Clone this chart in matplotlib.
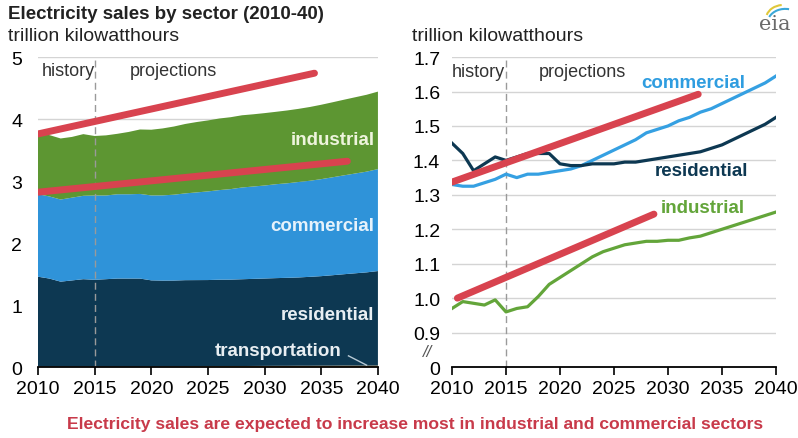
import matplotlib.pyplot as plt
from matplotlib.patches import Arc

plt.rcParams['font.family'] = ['Liberation Sans', 'DejaVu Sans']

years = list(range(2010, 2041))

residential = [1.45, 1.42, 1.37, 1.39, 1.41, 1.40, 1.41, 1.42, 1.42, 1.42,
               1.39, 1.385, 1.385, 1.39, 1.39, 1.39, 1.395, 1.395, 1.40, 1.405,
               1.41, 1.415, 1.42, 1.425, 1.435, 1.445, 1.46, 1.475, 1.49, 1.505,
               1.525]
commercial = [1.33, 1.325, 1.325, 1.335, 1.345, 1.36, 1.35, 1.36, 1.36, 1.365,
              1.37, 1.375, 1.385, 1.40, 1.415, 1.43, 1.445, 1.46, 1.48, 1.49,
              1.50, 1.515, 1.525, 1.54, 1.55, 1.565, 1.58, 1.595, 1.61, 1.625,
              1.645]
industrial = [0.97, 0.99, 0.985, 0.98, 0.995, 0.96, 0.97, 0.975, 1.005, 1.04,
              1.06, 1.08, 1.10, 1.12, 1.135, 1.145, 1.155, 1.16, 1.165, 1.165,
              1.168, 1.168, 1.175, 1.18, 1.19, 1.20, 1.21, 1.22, 1.23, 1.24,
              1.25]
transportation = [0.007] * 10 + [0.008, 0.009, 0.010, 0.011, 0.012, 0.013,
                                 0.014, 0.015, 0.016, 0.017, 0.018, 0.019,
                                 0.019, 0.020, 0.020, 0.021, 0.021, 0.022,
                                 0.022, 0.022, 0.023]

# red trend arrows (start year, start value, end year, end value)
left_trends = [(2010, 3.76, 2034.4, 4.74), (2010, 2.82, 2037.3, 3.32)]
right_trends = [(2010, 1.337, 2032.8, 1.592), (2010.5, 1.0, 2028.7, 1.244)]

left_ticks = [0, 1, 2, 3, 4, 5]
right_ticks = [0.8, 0.9, 1.0, 1.1, 1.2, 1.3, 1.4, 1.5, 1.6, 1.7]
right_labels = ['0', '0.9', '1.0', '1.1', '1.2', '1.3', '1.4', '1.5', '1.6', '1.7']
xticks = [2010, 2015, 2020, 2025, 2030, 2035, 2040]

c_res = '#0d3852'
c_com = '#2f93d9'
c_ind = '#5d9632'
c_trn = '#e59a2e'
c_red = '#d8434f'
c_grid = '#d4d4d4'

fig = plt.figure(figsize=(7.98, 4.39), dpi=100)
ax1 = fig.add_axes([0.0476, 0.1617, 0.426, 0.706])
ax2 = fig.add_axes([0.5664, 0.1617, 0.4060, 0.706])


def style_axis(ax):
    for side in ['left', 'right', 'top']:
        ax.spines[side].set_visible(False)
    ax.spines['bottom'].set_linewidth(1.3)
    ax.spines['bottom'].set_zorder(6)
    ax.tick_params(axis='x', direction='out', length=6, width=1.2,
                   labelsize=14, pad=3)
    ax.tick_params(axis='y', length=0, labelsize=14)
    ax.set_xlim(2010, 2040)
    ax.set_xticks(xticks)


# left: stacked areas
style_axis(ax1)
ax1.set_ylim(0, 5)
ax1.set_yticks(left_ticks)
ax1.tick_params(axis='y', pad=11.5)
for t in left_ticks[1:]:
    ax1.axhline(t, color=c_grid, lw=1, zorder=0)
ax1.stackplot(years, transportation, residential, commercial, industrial,
              colors=[c_trn, c_res, c_com, c_ind], zorder=2, lw=0)
ax1.axvline(2015, color='#9a9a9a', lw=1, ls=(0, (5, 3)), zorder=3)
for x1, y1, x2, y2 in left_trends:
    ax1.plot([x1, x2], [y1, y2], color=c_red, lw=5, solid_capstyle='round',
             zorder=4)
ax1.text(2010.3, 4.78, 'history', fontsize=13, color='#333333', va='center')
ax1.text(2018.1, 4.78, 'projections', fontsize=13, color='#333333', va='center')
lab = dict(fontsize=13.5, fontweight='bold', ha='right', va='center', zorder=5)
ax1.text(2039.7, 3.67, 'industrial', color='#eef4dc', **lab)
ax1.text(2039.7, 2.29, 'commercial', color='#e6f2fb', **lab)
ax1.text(2039.7, 0.85, 'residential', color='#e8eef2', **lab)
ax1.text(2031.2, 0.26, 'transportation', color='#e8eef2', fontsize=13.5,
         fontweight='bold', ha='center', va='center', zorder=5)
ax1.plot([2037.4, 2039.0], [0.18, 0.03], color='#b9cbd6', lw=1, zorder=5)

# right: lines
style_axis(ax2)
ax2.set_ylim(0.8, 1.7)
ax2.set_yticks(right_ticks)
ax2.set_yticklabels(right_labels)
ax2.tick_params(axis='y', pad=8.5)
for t in right_ticks[1:]:
    ax2.axhline(t, color=c_grid, lw=1, zorder=0)
ax2.axvline(2015, color='#9a9a9a', lw=1, ls=(0, (5, 3)), zorder=1)
ax2.plot(years, commercial, color='#35a0e2', lw=2.3, zorder=3)
ax2.plot(years, residential, color=c_res, lw=2.3, zorder=3)
ax2.plot(years, industrial, color='#63a53a', lw=2.3, zorder=3)
for x1, y1, x2, y2 in right_trends:
    ax2.plot([x1, x2], [y1, y2], color=c_red, lw=5, solid_capstyle='round',
             zorder=4)
ax2.text(2010.0, 1.658, 'history', fontsize=13, color='#333333', va='center')
ax2.text(2018.0, 1.658, 'projections', fontsize=13, color='#333333', va='center')
lab2 = dict(fontsize=13.5, fontweight='bold', ha='right', va='center')
ax2.text(2037.2, 1.627, 'commercial', color='#2f9de0', **lab2)
ax2.text(2037.4, 1.371, 'residential', color=c_res, **lab2)
ax2.text(2037.1, 1.262, 'industrial', color='#63a53a', **lab2)
ax2.text(-0.075, 0.05, '//', transform=ax2.transAxes, fontsize=12,
         style='italic', color='#555555', ha='center', va='center')

# titles and footer
fig.text(0.010, 0.966, 'Electricity sales by sector (2010-40)', fontsize=13.5,
         fontweight='bold', color='#222222', va='center')
fig.text(0.010, 0.916, 'trillion kilowatthours', fontsize=14, color='#222222',
         va='center')
fig.text(0.516, 0.916, 'trillion kilowatthours', fontsize=14, color='#222222',
         va='center')
fig.text(0.520, 0.032, 'Electricity sales are expected to increase most in '
         'industrial and commercial sectors', fontsize=12.6, fontweight='bold',
         color='#c83a4a', ha='center', va='center')

# eia logo
fig.text(0.971, 0.945, 'eia', fontsize=15, family='DejaVu Serif',
         color='#6b6b6b', ha='center', va='center')
logo = fig.add_axes([0.952, 0.955, 0.04, 0.045])
logo.set_xlim(0, 1)
logo.set_ylim(0, 1)
logo.axis('off')
logo.add_patch(Arc((0.75, 0.0), 1.1, 1.4, theta1=95, theta2=160,
                   color='#e0c83a', lw=1.5))
logo.add_patch(Arc((0.8, -0.2), 1.1, 1.4, theta1=80, theta2=150,
                   color='#3aa8d8', lw=1.5))

fig.savefig('out.png', dpi=100)
